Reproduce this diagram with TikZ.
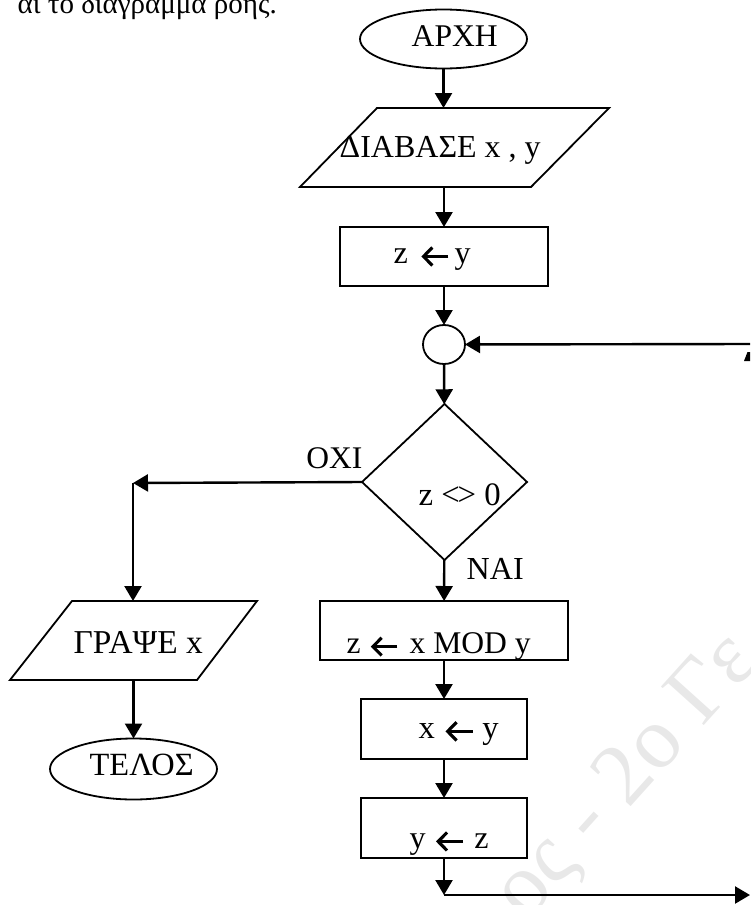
\documentclass[tikz,border=0pt]{standalone}
\usepackage{fontspec}
\usepackage{graphicx}
\setmainfont{Liberation Serif}
\usetikzlibrary{shapes.geometric,arrows.meta}
\newcommand\la{\tikz[baseline=0pt]{\useasboundingbox (0pt,-3pt) rectangle (25pt,16pt);
  \draw[line width=3pt,line cap=butt] (25pt,6.3pt) -- (1pt,6.3pt);
  \draw[line width=3pt,line join=miter] (9.5pt,15pt) -- (1pt,6.3pt) -- (9.5pt,-2.4pt);}}
\newcommand\fitw[2]{\resizebox{#1pt}{!}{#2}}
\tikzset{
  shp/.style={draw, line width=1.8pt, inner sep=0pt, outer sep=0pt},
  term/.style={shp, ellipse, minimum width=167pt},
  proc/.style={shp, rectangle},
  iobox/.style={rectangle, inner sep=0pt, outer sep=0pt},
  dec/.style={shp, diamond},
  conn/.style={line width=2.4pt, -{Triangle[length=15pt,width=17pt]}},
  lbl/.style={font=\fontsize{31}{36}\selectfont, inner sep=0pt, anchor=base west},
  para/.style={line width=1.8pt, line join=miter},
}
\begin{document}
\begin{tikzpicture}[x=1pt,y=-1pt]
\useasboundingbox (0,0) rectangle (750,905);
\clip (0,0) rectangle (750,905);
% faint watermark
\node[font=\fontsize{88}{90}\selectfont, text=black!9, rotate=48, inner sep=0pt] (wm) at (628,778) {ος - 2ο Γε};
% heading fragment
\node[font=\fontsize{29}{34}\selectfont, inner sep=0pt, anchor=base east] (head) at (277,13) {αι το διάγραμμα ροής.};
% shapes
\node[term, minimum height=59pt] (start) at (443.5,39) {};
\node[iobox, minimum width=309pt, minimum height=79pt] (read) at (454.5,147.5) {};
\draw[para] ([xshift=77pt]read.north west) -- (read.north east) -- ([xshift=-78pt]read.south east) -- (read.south west) -- cycle;
\node[proc, minimum width=208pt, minimum height=59pt] (assign1) at (444,256.5) {};
\node[shp, ellipse, minimum width=42pt, minimum height=39pt] (junc) at (444,344.5) {};
\node[dec, minimum width=165pt, minimum height=156pt] (cond) at (444.5,482) {};
\node[proc, minimum width=248pt, minimum height=59pt] (mod) at (444,630.5) {};
\node[proc, minimum width=166pt, minimum height=60pt] (xy) at (444,729) {};
\node[proc, minimum width=166pt, minimum height=60pt] (yz) at (444,828) {};
\node[iobox, minimum width=247pt, minimum height=79pt] (write) at (133.5,640.5) {};
\draw[para] ([xshift=62pt]write.north west) -- (write.north east) -- ([xshift=-60pt]write.south east) -- (write.south west) -- cycle;
\node[term, minimum height=61pt] (end) at (133.5,769) {};
% texts
\node[lbl] (tstart) at (411.5,46) {\fitw{86}{ΑΡΧΗ}};
\node[lbl] (tread) at (339.5,157) {\fitw{201}{ΔΙΑΒΑΣΕ x , y}};
\node[lbl] (tassign) at (393.5,263) {\fitw{77}{z\hspace{14pt}\la\hspace{6pt}y}};
\node[lbl] (tcond) at (418.5,505) {\fitw{82}{z <\kern-0.07em> 0}};
\node[lbl, anchor=base east] (toxi) at (362.5,468) {\fitw{56}{ΟΧΙ}};
\node[lbl] (tnai) at (466.5,579) {\fitw{57}{ΝΑΙ}};
\node[lbl] (tmod) at (346.5,653) {\fitw{184}{z\hspace{11pt}\la\hspace{12pt}x MOD y}};
\node[lbl] (txy) at (418.5,738) {\fitw{80}{x\hspace{11pt}\la\hspace{9pt}y}};
\node[lbl] (tyz) at (409.5,848) {\fitw{79}{y\hspace{11pt}\la\hspace{11pt}z}};
\node[lbl] (twrite) at (73.5,653) {\fitw{129}{ΓΡΑΨΕ x}};
\node[lbl] (tend) at (89.5,775) {\fitw{104}{ΤΕΛΟΣ}};
% coordinates
\coordinate (c1) at (133,483);
\coordinate (c3) at (444,895);
\coordinate (c4) at (750,895);
\coordinate (c5) at (752,344);
% connectors
\draw[conn] (start) -- (start |- read.north);
\draw[conn] (assign1 |- read.south) -- (assign1);
\draw[conn] (assign1) -- (junc);
\draw[conn] (junc) -- (cond);
\draw[conn] (cond.west) -- (c1);
\draw[conn] (c1) -- (c1 |- write.north);
\draw[conn] (cond) -- (mod);
\draw[conn] (mod) -- (xy);
\draw[conn] (xy) -- (yz);
\draw[conn] (yz) -- (c3);
\draw[conn] (c3) -- (c4);
\draw[conn] (c5) -- (junc);
\draw[conn] (write) -- (end);
% fragment of a cut-off letter at the right edge
\fill (747.5,352) -- (750,352) -- (750,361) -- (744,361) -- cycle;
\end{tikzpicture}
\end{document}
